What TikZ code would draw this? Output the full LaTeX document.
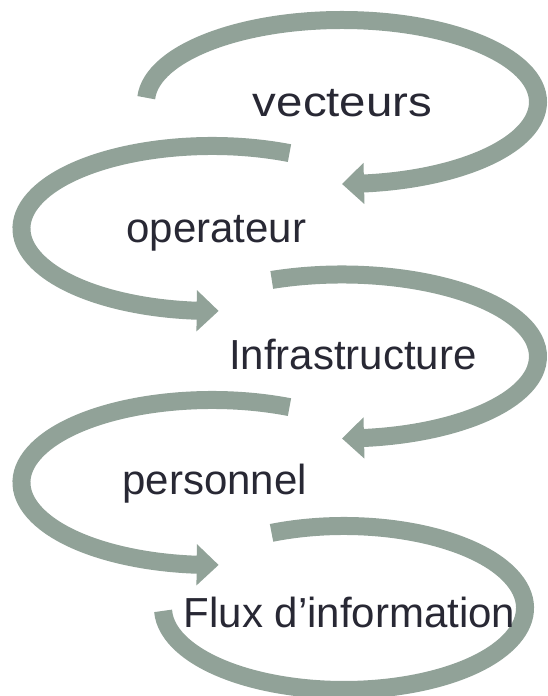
\documentclass[tikz,border=0pt]{standalone}
\usepackage{fontspec}
\setmainfont{Liberation Sans}
\usetikzlibrary{arrows.meta,bending}
\definecolor{ringgreen}{RGB}{145,162,152}
\definecolor{wordink}{RGB}{40,40,52}
\begin{document}
\begin{tikzpicture}[x=1pt,y=1pt,
  ring/.style={draw=ringgreen, line width=18pt, line cap=butt},
  ringarrow/.style={ring, -{Triangle[length=22pt,width=40pt]}},
  ringword/.style={text=wordink, inner sep=0pt, anchor=base west,
    font=\fontsize{42}{50}\selectfont}
]
\useasboundingbox (0,0) rectangle (547,696);

% centres of the five elliptical loops
\coordinate (c1) at (342,594);
\coordinate (c2) at (212,467.5);
\coordinate (c3) at (342,339.5);
\coordinate (c4) at (212,213.5);
\coordinate (c5) at (344,88);

% loops
\draw[ringarrow] ([shift={(177:196 and 82)}]c1)
  arc[start angle=177, end angle=-90, x radius=196, y radius=82];
\draw[ringarrow] ([shift={(66:190.5 and 82.5)}]c2)
  arc[start angle=66, end angle=272, x radius=190.5, y radius=82.5];
\draw[ringarrow] ([shift={(111:196 and 82)}]c3)
  arc[start angle=111, end angle=-90, x radius=196, y radius=82];
\draw[ringarrow] ([shift={(66:190.5 and 82.5)}]c4)
  arc[start angle=66, end angle=272, x radius=190.5, y radius=82.5];
\draw[ring] ([shift={(113.6:181 and 82)}]c5)
  arc[start angle=113.6, end angle=-178, x radius=181, y radius=82];

% words
\node[ringword, xscale=1.13] (vec) at (252.7,579) {vecteurs};
\node[ringword] (ope) at (126.2,453) {operateur};
\node[ringword] (inf) at (229,326) {Infrastructure};
\node[ringword] (per) at (122.2,201) {personnel};
\node[ringword] (flu) at (183.6,68) {Flux d’information};
\end{tikzpicture}
\end{document}
